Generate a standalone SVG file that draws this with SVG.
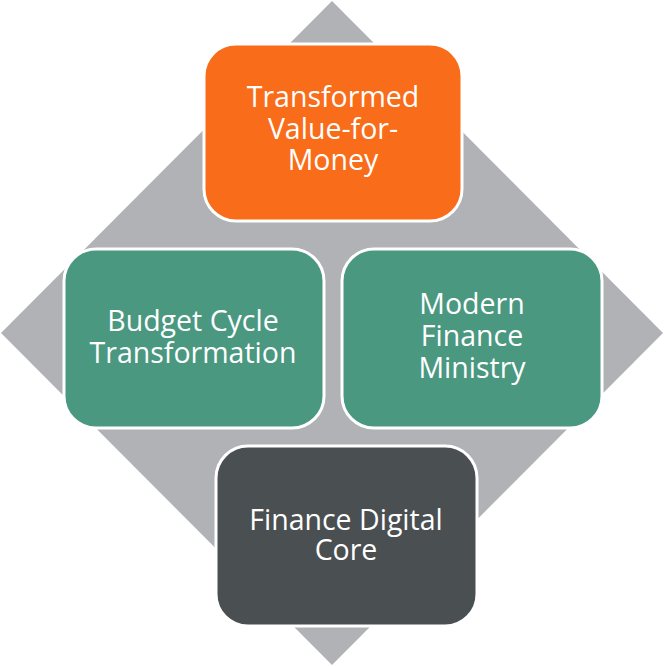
<svg xmlns="http://www.w3.org/2000/svg" width="664" height="666" viewBox="0 0 664 666">
<style>
.box{stroke:#fff;stroke-width:3}
.t{font-family:"Open Sans","Noto Sans",sans-serif;font-size:28.5px;fill:#fff;text-anchor:middle}
</style>
<rect width="664" height="666" fill="#fff"/>
<g id="diamond"><polygon points="332,1 663,333 332,665 1,333" fill="#B1B2B5"/></g>
<g id="connectors"></g>
<g id="n1"><rect class="box" x="204" y="44" width="258" height="177" rx="32" fill="#F96C19"/>
<text class="t" x="333" y="107">Transformed</text><text class="t" x="333" y="139">Value-for-</text><text class="t" x="333" y="170">Money</text></g>
<g id="n2"><rect class="box" x="64" y="249" width="260" height="179" rx="32" fill="#4A9880"/>
<text class="t" x="193" y="331">Budget Cycle</text><text class="t" x="193" y="363">Transformation</text></g>
<g id="n3"><rect class="box" x="342" y="249" width="260" height="179" rx="32" fill="#4A9880"/>
<text class="t" x="472" y="314">Modern</text><text class="t" x="472" y="346">Finance</text><text class="t" x="472" y="378">Ministry</text></g>
<g id="n4"><rect class="box" x="216" y="446" width="261" height="180" rx="32" fill="#4A4F51"/>
<text class="t" x="346" y="530">Finance Digital</text><text class="t" x="346" y="560">Core</text></g>
</svg>
